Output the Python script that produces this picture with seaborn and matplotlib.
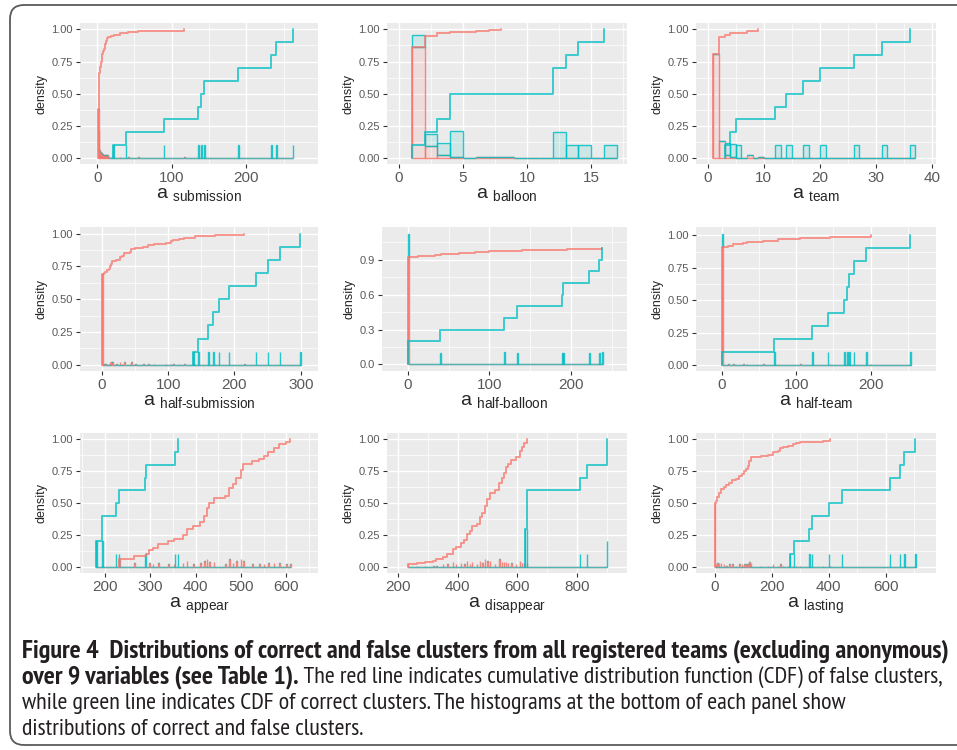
import numpy as np
import pandas as pd
import matplotlib.pyplot as plt
import seaborn as sns
from matplotlib import font_manager
from matplotlib.patches import FancyBboxPatch
from matplotlib.ticker import AutoMinorLocator, FixedLocator, FormatStrFormatter

# values
# correct clusters: one value per cluster; false clusters: value -> number of clusters
submission_correct = [21, 38, 89, 135, 139, 143, 189, 233, 240, 262]
submission_false_x = [1, 2, 3, 4, 5, 6, 7, 8, 9, 10, 11, 12, 13, 15, 18, 22, 30, 42, 55, 117]
submission_false_n = [38, 22, 6, 5, 4, 3, 3, 2, 2, 2, 2, 2, 2, 1, 1, 1, 1, 1, 1, 1]

balloon_correct = [1, 2, 3, 4, 4, 12, 12, 13, 14, 16]
balloon_false_x = [1, 2, 3, 4, 6, 7, 8]
balloon_false_n = [172, 18, 4, 2, 1, 2, 1]

team_correct = [3, 4, 5, 12, 14, 17, 20, 26, 31, 36]
team_false_x = [1, 2, 3, 4, 7, 9]
team_false_n = [81, 13, 2, 1, 2, 1]

half_sub_correct = [138, 145, 160, 168, 176, 191, 232, 250, 268, 299]
half_sub_false_x = [0, 3, 5, 7, 10, 12, 14, 16, 22, 27, 30, 34, 42, 44, 50, 62, 70, 78,
                    96, 104, 108, 116, 124, 140, 170, 215]
half_sub_false_n = [69, 1, 1, 1, 1, 2, 2, 2, 1, 2, 1, 2, 1, 2, 1, 1, 1, 1,
                    1, 1, 1, 1, 1, 1, 1, 1]

half_bal_correct = [0, 0, 39, 118, 134, 189, 190, 222, 235, 238]
half_bal_false_x = [0, 5, 12, 25, 33, 40, 48, 62, 75, 82, 100, 118, 140, 175, 195, 225, 238]
half_bal_false_n = [184, 1, 1, 1, 1, 1, 1, 1, 1, 1, 1, 1, 1, 1, 1, 1, 1]

half_team_correct = [0, 70, 121, 142, 164, 168, 171, 177, 194, 253]
half_team_false_x = [0, 8, 15, 28, 33, 55, 75, 105, 145, 200]
half_team_false_n = [91, 1, 1, 1, 1, 1, 1, 1, 1, 1]

appear_correct = [181, 181, 194, 194, 224, 231, 288, 290, 354, 361]
appear_false_x = [232, 265, 290, 298, 305, 318, 340, 352, 372, 381, 395, 410, 419, 425, 430,
                  440, 465, 474, 482, 490, 500, 505, 525, 540, 550, 560, 572, 585, 600, 609]
appear_false_n = [6, 3, 1, 3, 2, 3, 2, 2, 3, 5, 2, 3, 5, 6, 4,
                  4, 2, 6, 3, 5, 6, 5, 2, 2, 2, 3, 3, 3, 2, 2]

disappear_correct = [625, 625, 625, 633, 633, 633, 811, 834, 901, 901]
disappear_false_x = [233, 262, 290, 318, 329, 350, 365, 385, 395, 410, 422, 430, 440, 447, 465,
                     475, 483, 492, 500, 508, 525, 540, 548, 555, 562, 568, 580, 595, 609, 615,
                     622, 631]
disappear_false_n = [2, 1, 1, 1, 1, 2, 2, 4, 2, 3, 2, 5, 2, 4, 2,
                     5, 3, 6, 5, 5, 2, 6, 4, 4, 4, 3, 3, 2, 5, 3,
                     3, 3]

lasting_correct = [264, 276, 332, 341, 399, 447, 614, 649, 666, 704]
lasting_false_x = [0, 3, 8, 14, 20, 30, 40, 50, 61, 72, 85, 95, 103, 110, 117, 121, 126,
                   160, 185, 203, 220, 230, 238, 255, 274, 285, 297, 380, 403]
lasting_false_n = [50, 2, 3, 3, 3, 2, 1, 2, 2, 1, 2, 2, 2, 2, 2, 4, 3,
                   1, 1, 2, 1, 2, 1, 1, 1, 1, 1, 1, 1]

panels = [
    ("submission", submission_correct, submission_false_x, submission_false_n),
    ("balloon", balloon_correct, balloon_false_x, balloon_false_n),
    ("team", team_correct, team_false_x, team_false_n),
    ("half-submission", half_sub_correct, half_sub_false_x, half_sub_false_n),
    ("half-balloon", half_bal_correct, half_bal_false_x, half_bal_false_n),
    ("half-team", half_team_correct, half_team_false_x, half_team_false_n),
    ("appear", appear_correct, appear_false_x, appear_false_n),
    ("disappear", disappear_correct, disappear_false_x, disappear_false_n),
    ("lasting", lasting_correct, lasting_false_x, lasting_false_n),
]
x_ticks = [[0, 100, 200], [0, 5, 10, 15], [0, 10, 20, 30, 40],
           [0, 100, 200, 300], [0, 100, 200], [0, 100, 200],
           [200, 300, 400, 500, 600], [200, 400, 600, 800], [0, 200, 400, 600]]
x_lims = [(-23, 296), (-0.94, 17.8), (-2.1, 40.7),
          (-33, 326), (-32, 269), (-35, 288),
          (145, 670), (163, 968), (-67, 777)]

caption = ["Figure 4  Distributions of correct and false clusters from all registered teams (excluding anonymous)",
           "over 9 variables (see Table 1).",
           " The red line indicates cumulative distribution function (CDF) of false clusters,",
           "while green line indicates CDF of correct clusters. The histograms at the bottom of each panel show",
           "distributions of correct and false clusters."]

RED = "#F8766D"
TEAL = "#00BFC4"
pal = {"correct": TEAL, "false": RED}

sns.set_theme(style="darkgrid", rc={"axes.facecolor": "#EBEBEB", "grid.color": "white"})
plt.rcParams["font.family"] = ["Liberation Sans", "DejaVu Sans"]
plt.rcParams["mathtext.fontset"] = "custom"
plt.rcParams["mathtext.rm"] = "Liberation Sans"
plt.rcParams["mathtext.it"] = "Liberation Sans:italic"
plt.rcParams["mathtext.bf"] = "Liberation Sans:bold"

W, H = 957, 750
fig = plt.figure(figsize=(W / 100, H / 100), dpi=100)
fig.patch.set_facecolor("white")

col_l = [80, 387, 696]
col_r = [318, 627, 936]
row_t = [23, 227, 433]
row_b = [164, 371, 573]

for i, (name, correct, fx, fn) in enumerate(panels):
    r, c = divmod(i, 3)
    left = 382 if name == "half-balloon" else col_l[c]
    ax = fig.add_axes([left / W, 1 - row_b[r] / H, (col_r[c] - left) / W, (row_b[r] - row_t[r]) / H])

    df = pd.concat([
        pd.DataFrame({"value": correct, "count": 1, "cluster": "correct"}),
        pd.DataFrame({"value": fx, "count": fn, "cluster": "false"}),
    ], ignore_index=True)
    edges = np.arange(df["value"].min(), df["value"].max() + 2).tolist()

    sns.histplot(data=df, x="value", hue="cluster", weights="count", hue_order=["correct", "false"],
                 palette=pal, stat="density", common_norm=False, multiple="stack",
                 bins=edges, alpha=0.12, linewidth=1.0, legend=False, ax=ax)
    for p in ax.patches:
        fc = p.get_facecolor()
        p.set_edgecolor((fc[0], fc[1], fc[2], 0.85))

    sns.ecdfplot(data=df, x="value", hue="cluster", weights="count", hue_order=["correct", "false"],
                 palette=pal, linewidth=1.4, alpha=0.75, legend=False, ax=ax)

    ax.set_xlim(*x_lims[i])
    ax.xaxis.set_major_locator(FixedLocator(x_ticks[i]))
    if name == "half-balloon":
        ax.set_ylim(-0.056, 1.18)
        ax.yaxis.set_major_locator(FixedLocator([0, 0.3, 0.6, 0.9]))
        ax.yaxis.set_major_formatter(FormatStrFormatter("%.1f"))
    else:
        ax.set_ylim(-0.047, 1.065 if name == "half-team" else 1.05)
        ax.yaxis.set_major_locator(FixedLocator([0, 0.25, 0.5, 0.75, 1.0]))
        ax.yaxis.set_major_formatter(FormatStrFormatter("%.2f"))
    ax.xaxis.set_minor_locator(AutoMinorLocator(2))
    ax.yaxis.set_minor_locator(AutoMinorLocator(2))
    ax.grid(which="major", color="white", linewidth=1.0)
    ax.grid(which="minor", color="white", linewidth=0.5)
    ax.set_axisbelow(True)
    for s in ax.spines.values():
        s.set_visible(False)
    ax.tick_params(axis="both", which="major", length=3, width=0.8, color="#333333",
                   bottom=True, left=True, pad=2)
    ax.tick_params(axis="both", which="minor", length=0)
    ax.tick_params(axis="x", labelsize=11, labelcolor="#595959")
    ax.tick_params(axis="y", labelsize=8, labelcolor="#595959")
    ax.set_ylabel("density", fontsize=9, labelpad=3)
    ax.set_xlabel("a $_{\\text{" + name + "}}$", fontsize=14, labelpad=1)

# frame around figure and caption
frame = FancyBboxPatch((0.10, 0.05), 9.9, 7.40, boxstyle="round,pad=0,rounding_size=0.14",
                       transform=fig.dpi_scale_trans, facecolor="none", edgecolor="#5A5A5A",
                       linewidth=1.3)
fig.add_artist(frame)

# caption font: a narrow sans if one is installed
avail = {f.name for f in font_manager.fontManager.ttflist}
cap_name = next((n for n in ["PT Sans Narrow", "Fira Sans Condensed", "Roboto Condensed",
                             "Liberation Sans Narrow", "Open Sans Condensed", "Liberation Sans"]
                 if n in avail), "DejaVu Sans")
cap_font = [cap_name, "DejaVu Sans"]
t1 = fig.text(22 / W, 1 - 657 / H, caption[0], fontsize=12, fontweight="bold", family=cap_font, color="#231F20")
t2a = fig.text(22 / W, 1 - 683 / H, caption[1], fontsize=12, fontweight="bold", family=cap_font, color="#231F20")
t2b = fig.text(0.5, 1 - 683 / H, caption[2], fontsize=12, family=cap_font, color="#231F20")
t3 = fig.text(22 / W, 1 - 709 / H, caption[3], fontsize=12, family=cap_font, color="#231F20")
t4 = fig.text(22 / W, 1 - 735 / H, caption[4], fontsize=12, family=cap_font, color="#231F20")

fig.canvas.draw()
rend = fig.canvas.get_renderer()
bold_size = 12 * 926 / t1.get_window_extent(rend).width
for t in (t1, t2a):
    t.set_fontsize(bold_size)
fig.canvas.draw()
x_end = t2a.get_window_extent(rend).x1
t2b.set_x(x_end / W)
norm_size = 12 * (943 - x_end) / t2b.get_window_extent(rend).width
for t in (t2b, t3, t4):
    t.set_fontsize(norm_size)

fig.savefig("out.png", dpi=100)
